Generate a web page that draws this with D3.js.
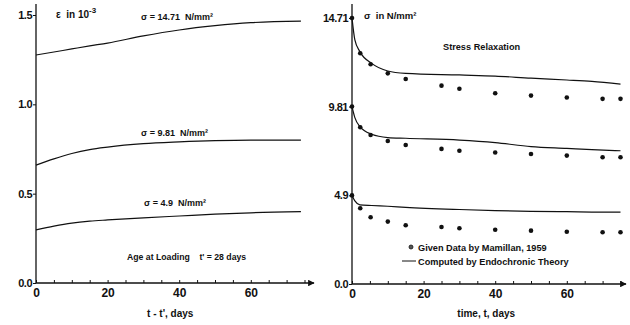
<!DOCTYPE html>
<html>
<head>
<meta charset="utf-8">
<script src="https://cdn.jsdelivr.net/npm/d3@7"></script>
<style>
  body { margin: 0; background: #fff; }
  svg { font-family: "Liberation Sans", Arial, sans-serif; }
  text { white-space: pre; }
  .tick text { font-weight: bold; }
</style>
</head>
<body>
<svg id="chart" width="630" height="325"></svg>
<script>
// creep curves, left panel (strain in 10^-3)
const creepDays = [0, 5, 10, 15, 20, 30, 40, 50, 60, 74];
const strain1471 = [1.276, 1.293, 1.31, 1.327, 1.343, 1.383, 1.416, 1.44, 1.457, 1.466];
const strain981 = [0.66, 0.695, 0.725, 0.747, 0.761, 0.78, 0.79, 0.797, 0.80, 0.80];
const strain49 = [0.297, 0.318, 0.335, 0.346, 0.353, 0.365, 0.375, 0.385, 0.393, 0.399];

// relaxation, right panel (stress in N/mm2)
const relaxDays = [0, 0.8, 2.2, 5.5, 10, 15, 30, 40, 50, 60, 67, 75];
const theory1471 = [14.71, 13.5, 12.85, 12.2, 11.78, 11.65, 11.56, 11.5, 11.38, 11.28, 11.2, 11.05];
const theory981 = [9.81, 9.2, 8.7, 8.28, 8.1, 8.06, 7.96, 7.82, 7.6, 7.5, 7.43, 7.37];
const theory49 = [4.9, 4.6, 4.38, 4.34, 4.3, 4.24, 4.12, 4.06, 4.02, 4.0, 3.98, 3.97];

const dataDays = [0, 2.3, 5.2, 10, 15, 25, 30, 40, 50, 60, 70, 75];
const given1471 = [14.71, 12.76, 12.15, 11.65, 11.34, 10.97, 10.8, 10.55, 10.42, 10.31, 10.24, 10.24];
const given981 = [9.81, 8.67, 8.24, 7.91, 7.69, 7.47, 7.37, 7.27, 7.19, 7.1, 7.01, 7.01];
const given49 = [4.9, 4.19, 3.69, 3.45, 3.25, 3.15, 3.08, 3.0, 2.95, 2.89, 2.86, 2.86];

const xTicks = d3.range(0, 76, 5);
const xLabels = [0, 20, 40, 60];
const leftYTicks = [0, 0.5, 1.0, 1.5];
const rightYTicks = [0, 4.9, 9.81, 14.71];
const rightYLabels = ["0.0", "4.9", "9.81", "14.71"];

const svg = d3.select("#chart");
const ink = "#111";

svg.append("defs").append("marker")
  .attr("id", "arrow")
  .attr("viewBox", "0 0 10 10")
  .attr("refX", 9).attr("refY", 5)
  .attr("markerWidth", 7).attr("markerHeight", 5)
  .attr("orient", "auto")
  .append("path")
  .attr("d", "M0,0 L10,5 L0,10 z")
  .attr("fill", ink);

function panel(x0, xEnd, yScale, yTicks, yFmt, title) {
  const xScale = d3.scaleLinear().domain([0, 75]).range([x0, x0 + 75 * 3.58]);
  const g = svg.append("g");

  // x axis, ticks pointing up
  const xa = g.append("g")
    .attr("transform", `translate(0,${yScale(0)})`)
    .call(d3.axisBottom(xScale).tickValues(xTicks).tickSizeInner(-3).tickSizeOuter(0)
      .tickFormat(d => xLabels.includes(d) ? d : ""));
  xa.select(".domain").remove();
  xa.selectAll("line").attr("stroke", ink);
  xa.selectAll("text").attr("dy", "0.95em").attr("font-size", 12).attr("fill", ink);
  g.append("line")
    .attr("x1", xScale(0)).attr("x2", xEnd)
    .attr("y1", yScale(0)).attr("y2", yScale(0))
    .attr("stroke", ink).attr("stroke-width", 1.3)
    .attr("marker-end", "url(#arrow)");

  // y axis
  const ya = g.append("g")
    .attr("transform", `translate(${xScale(0)},0)`)
    .call(d3.axisLeft(yScale).tickValues(yTicks).tickSizeInner(3).tickSizeOuter(0)
      .tickPadding(1).tickFormat(yFmt));
  ya.select(".domain").remove();
  ya.selectAll("line").attr("stroke", ink);
  ya.selectAll("text").attr("font-size", 11).attr("fill", ink).attr("letter-spacing", "-0.5");
  g.append("line")
    .attr("x1", xScale(0)).attr("x2", xScale(0))
    .attr("y1", yScale(0)).attr("y2", 4)
    .attr("stroke", ink).attr("stroke-width", 1.3);

  g.append("text")
    .attr("x", (xScale(0) + xScale(75)) / 2).attr("y", 317)
    .attr("text-anchor", "middle")
    .attr("font-size", 10).attr("font-weight", "bold").attr("fill", ink)
    .text(title);
  return { g, xScale };
}

function curve(g, xScale, yScale, days, vals) {
  const line = d3.line()
    .x((d, i) => xScale(days[i]))
    .y(d => yScale(d))
    .curve(d3.curveMonotoneX);
  g.append("path")
    .attr("d", line(vals))
    .attr("fill", "none")
    .attr("stroke", ink)
    .attr("stroke-width", 1.2);
}

function label(x, y, txt, size) {
  return svg.append("text")
    .attr("x", x).attr("y", y)
    .attr("font-size", size || 9).attr("font-weight", "bold").attr("fill", ink)
    .text(txt);
}

// left panel
const yLeft = d3.scaleLinear().domain([0, 1.5]).range([283, 15]);
const L = panel(36, 314, yLeft, leftYTicks, d3.format(".1f"), "t - t', days");
curve(L.g, L.xScale, yLeft, creepDays, strain1471);
curve(L.g, L.xScale, yLeft, creepDays, strain981);
curve(L.g, L.xScale, yLeft, creepDays, strain49);
const eps = label(56, 18, "\u03b5  in 10", 10);
eps.append("tspan").attr("dy", -5).attr("font-size", 8).text("-3");
label(141, 20, "\u03c3 = 14.71  N/mm\u00b2");
label(141, 136, "\u03c3 = 9.81  N/mm\u00b2");
label(144, 206, "\u03c3 = 4.9  N/mm\u00b2");
label(127, 260, "Age at Loading    t' = 28 days", 8.7);

// right panel
const yRight = d3.scaleLinear().domain([0, 14.71]).range([284, 18]);
const R = panel(352, 626, yRight, rightYTicks, (d, i) => rightYLabels[i], "time, t, days");
curve(R.g, R.xScale, yRight, relaxDays, theory1471);
curve(R.g, R.xScale, yRight, relaxDays, theory981);
curve(R.g, R.xScale, yRight, relaxDays, theory49);
[given1471, given981, given49].forEach(vals => {
  R.g.selectAll(null)
    .data(vals)
    .enter()
    .append("circle")
    .attr("cx", (d, i) => R.xScale(dataDays[i]))
    .attr("cy", d => yRight(d))
    .attr("r", 2.3)
    .attr("fill", ink);
});
label(364, 19, "\u03c3  in N/mm\u00b2", 9.5);
label(443, 50, "Stress Relaxation", 9.2);

// legend
svg.append("circle").attr("cx", 411).attr("cy", 247).attr("r", 2)
  .attr("fill", "#555").attr("stroke", ink).attr("stroke-width", 0.8);
label(418, 251, "Given Data by Mamillan, 1959", 9.2);
svg.append("line").attr("x1", 402).attr("x2", 416).attr("y1", 261).attr("y2", 261)
  .attr("stroke", ink).attr("stroke-width", 1);
label(418, 265, "Computed by Endochronic Theory", 9.2);
</script>
</body>
</html>
